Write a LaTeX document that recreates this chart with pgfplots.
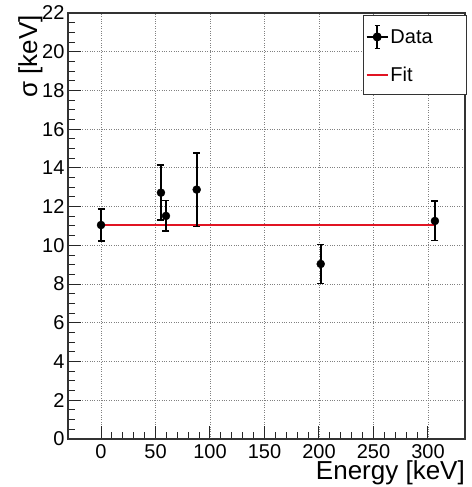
\documentclass[border=0pt]{standalone}
\usepackage{fontspec}
\setmainfont{Liberation Sans}
\usepackage{pgfplots}
\pgfplotsset{compat=1.18}
\definecolor{fitred}{RGB}{225,20,35}
\begin{document}
\begin{tikzpicture}[x=1pt,y=1pt]
\path[use as bounding box] (0,0) rectangle (471,487);
\begin{axis}[
  at={(68pt,48pt)}, anchor=south west,
  scale only axis, width=397pt, height=426pt,
  xmin=-30.3, xmax=334, ymin=0, ymax=22,
  xtick={0,50,...,300}, ytick={0,2,...,22},
  minor x tick num=4, minor y tick num=3,
  tick pos=left, tick align=inside,
  major tick length=13pt, minor tick length=7pt,
  every tick/.style={black!85, line width=1pt},
  axis line style={black!80, line width=1.2pt},
  grid=major,
  major grid style={dotted, black!50, line width=0.9pt},
  /pgf/number format/assume math mode=true,
  ticklabel style={font=\fontsize{20}{24}\selectfont},
  xticklabel style={yshift=-2pt},
  xlabel={Energy [keV]},
  ylabel={σ [keV]},
  label style={font=\fontsize{26}{30}\selectfont},
  xlabel style={at={(axis description cs:1,-0.0962)}, anchor=base east, inner sep=0pt},
  ylabel style={at={(axis description cs:-0.078,0.995)}, anchor=base east, inner sep=0pt},
  legend style={at={(rel axis cs:1.005,0.995)}, anchor=north east, draw=black!80, line width=1pt,
    fill=white, font=\fontsize{20}{24}\selectfont, inner xsep=2pt, inner ysep=9pt,
    row sep=16pt, cells={anchor=west},
    /tikz/every even column/.append style={text width=72pt}},
  reverse legend,
]
\addplot[fitred, line width=2.4pt,
  legend image code/.code={\draw[draw=fitred, line width=1.6pt] (0pt,0pt) -- (21pt,0pt);}]
  coordinates {(0,11.06) (306.4,11.06)};
\addlegendentry{Fit}
\addplot[only marks, mark=*, mark size=4pt, black,
  legend image code/.code={
    \draw[black, line width=1.2pt] (0pt,0pt) -- (21pt,0pt);
    \draw[black, line width=1.6pt] (10.5pt,-11.5pt) -- (10.5pt,11.5pt);
    \draw[black, line width=1.4pt] (8pt,-11.5pt) -- (13pt,-11.5pt);
    \draw[black, line width=1.4pt] (8pt,11.5pt) -- (13pt,11.5pt);
    \fill[black] (10.5pt,0pt) circle (4pt);},
  error bars/.cd, y dir=both, y explicit,
  error bar style={line width=2pt, black},
  error mark options={line width=1.5pt, mark size=3.5pt, rotate=90, black}]
  coordinates {
    (0,11.05) +- (0,0.82)
    (55,12.72) +- (0,1.42)
    (59.6,11.52) +- (0,0.79)
    (87.8,12.88) +- (0,1.90)
    (201.6,9.04) +- (0,1.00)
    (306.4,11.26) +- (0,1.02)
  };
\addlegendentry{Data}
\end{axis}
\end{tikzpicture}
\end{document}
